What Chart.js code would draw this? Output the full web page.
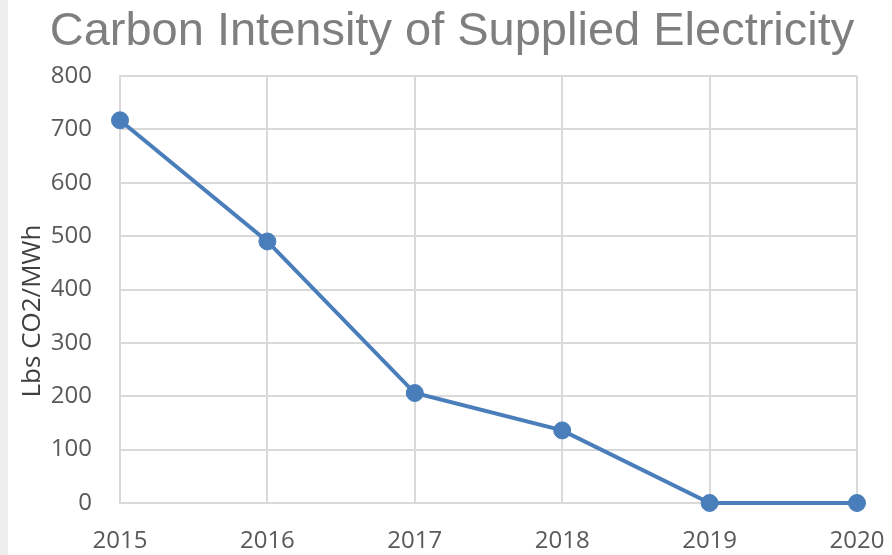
<!DOCTYPE html>
<html>
<head>
<meta charset="utf-8">
<script src="https://cdn.jsdelivr.net/npm/chart.js@4"></script>
<style>
  html, body {
    margin: 0;
    padding: 0;
    background: #eeeeee;
  }
  .wrap {
    position: absolute;
    left: 8px;
    top: 0;
    width: 884px;
    height: 555px;
    background: #ffffff;
  }
</style>
</head>
<body>
<div class="wrap"><canvas id="chartCanvas"></canvas></div>
<script>
const years = ["2015", "2016", "2017", "2018", "2019", "2020"];
const intensity = [717, 490, 206, 136, 0, 0];
const yMin = 0;
const yMax = 800;
const yStep = 100;

const chartTitle = "Carbon Intensity of Supplied Electricity";
const yAxisTitle = "Lbs CO2/MWh";

const lineColor = "#4a7ebb";
const gridColor = "#d9d9d9";

// title and rotated axis label drawn at fixed spots, like the source
const labelsPlugin = {
  id: "labels",
  afterDraw(chart) {
    const ctx = chart.ctx;
    ctx.save();
    ctx.fillStyle = "#7f7f7f";
    ctx.font = '47px "Liberation Sans", Arial, sans-serif';
    ctx.textAlign = "center";
    ctx.textBaseline = "alphabetic";
    ctx.fillText(chartTitle, 444, 45);

    ctx.translate(25, 311);
    ctx.rotate(-Math.PI / 2);
    ctx.fillStyle = "#404040";
    ctx.font = '26px "Open Sans", sans-serif';
    ctx.textBaseline = "middle";
    ctx.fillText(yAxisTitle, 0, 0);
    ctx.restore();
  },
};

new Chart(document.getElementById("chartCanvas"), {
  type: "line",
  data: {
    labels: years,
    datasets: [
      {
        data: intensity,
        borderColor: lineColor,
        backgroundColor: lineColor,
        pointBackgroundColor: lineColor,
        pointBorderColor: lineColor,
        borderWidth: 4,
        pointRadius: 8.5,
        pointBorderWidth: 1,
        tension: 0,
        clip: false,
      },
    ],
  },
  options: {
    responsive: true,
    maintainAspectRatio: false,
    animation: false,
    layout: { padding: { top: 76, right: 35, left: 0, bottom: 0 } },
    plugins: {
      legend: { display: false },
      title: { display: false },
      tooltip: { enabled: false },
    },
    scales: {
      x: {
        type: "category",
        offset: false,
        grid: { color: gridColor, lineWidth: 2, drawTicks: false },
        border: { color: gridColor, width: 2 },
        ticks: {
          color: "#595959",
          font: { family: "'Open Sans', sans-serif", size: 24 },
          padding: 24,
          maxRotation: 0,
          autoSkip: false,
        },
        afterFit(scale) {
          scale.height = 52;
          scale.paddingLeft = 0;
          scale.paddingRight = 0;
        },
      },
      y: {
        min: yMin,
        max: yMax,
        grid: { color: gridColor, lineWidth: 2, drawTicks: false },
        border: { color: gridColor, width: 2 },
        ticks: {
          stepSize: yStep,
          color: "#595959",
          font: { family: "'Open Sans', sans-serif", size: 24 },
          padding: 28,
        },
        afterFit(scale) {
          scale.width = 112;
        },
      },
    },
  },
  plugins: [labelsPlugin],
});
</script>
</body>
</html>
